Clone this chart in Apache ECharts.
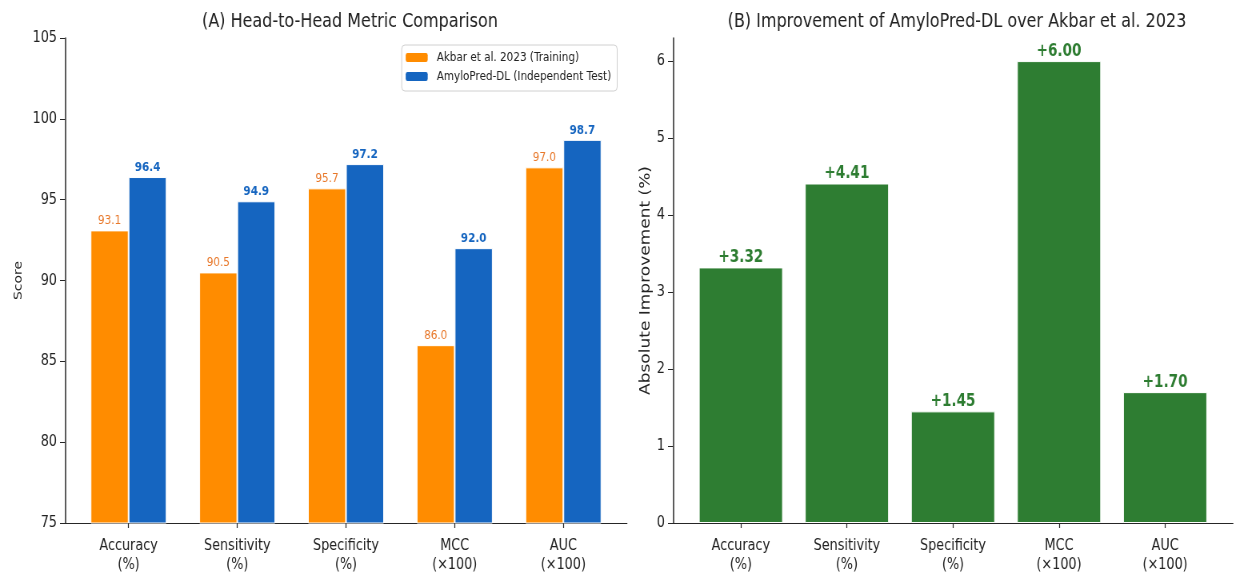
<!DOCTYPE html>
<html>
<head>
<meta charset="utf-8">
<script src="https://cdn.jsdelivr.net/npm/echarts@6/dist/echarts.min.js"></script>
<style>
  html, body { margin: 0; padding: 0; background: #fff; overflow: hidden; }
  #wrap { width: 1239px; height: 575px; overflow: hidden; }
  /* the figure is laid out wide and squeezed horizontally to its final width */
  #chart { height: 575px; transform-origin: 0 0; }
</style>
</head>
<body>
<div id="wrap"><div id="chart"></div></div>
<script>
// Metric categories (two-line labels)
const categories = ['Accuracy\n(%)', 'Sensitivity\n(%)', 'Specificity\n(%)', 'MCC\n(×100)', 'AUC\n(×100)'];
// Panel A scores
const akbarScores = [93.1, 90.5, 95.7, 86.0, 97.0];
const amyloScores = [96.4, 94.9, 97.2, 92.0, 98.7];
// Panel B absolute improvement
const improvement = [3.32, 4.41, 1.45, 6.00, 1.70];
// Tick values
const scoreTicks = [75, 80, 85, 90, 95, 100, 105];
const improvTicks = [0, 1, 2, 3, 4, 5, 6];
const catIndex = [0, 1, 2, 3, 4];

// horizontal squeeze factor; V() converts final-page x distances to layout units
const K = 0.8;
const V = x => x / K;
const el = document.getElementById('chart');
el.style.width = V(1239) + 'px';
el.style.transform = 'scaleX(' + K + ')';

const FONT = "'DejaVu Sans', sans-serif";
const AXIS = '#262626';

function xAxisFor(gridIndex, lo, hi) {
  return {
    type: 'value', gridIndex: gridIndex, min: lo, max: hi,
    splitLine: { show: false },
    axisLine: { show: true, onZero: false, lineStyle: { color: AXIS, width: 1.2 } },
    axisTick: { show: true, customValues: catIndex, length: 5, lineStyle: { color: AXIS, width: 1.2 } },
    axisLabel: {
      customValues: catIndex, formatter: v => categories[Math.round(v)],
      fontFamily: FONT, fontSize: 16, color: '#222', lineHeight: 19, margin: 13
    }
  };
}

function yAxisFor(gridIndex, lo, hi, ticks, name, nameSize, nameGap) {
  return {
    type: 'value', gridIndex: gridIndex, min: lo, max: hi,
    name: name, nameLocation: 'middle', nameGap: nameGap, nameRotate: 90,
    nameTextStyle: { fontFamily: FONT, fontSize: nameSize, color: '#222' },
    splitLine: { show: false },
    axisLine: { show: true, onZero: false, lineStyle: { color: AXIS, width: 1.5 } },
    axisTick: { show: true, customValues: ticks, length: V(5), lineStyle: { color: AXIS } },
    axisLabel: { customValues: ticks, fontFamily: FONT, fontSize: 16, color: '#222', margin: V(8) }
  };
}

const chart = echarts.init(el, null, { renderer: 'canvas' });

chart.setOption({
  animation: false,
  backgroundColor: '#fff',
  title: [
    { text: '(A) Head-to-Head Metric Comparison', left: V(346), top: 7, textAlign: 'center',
      textStyle: { fontFamily: FONT, fontSize: 20, fontWeight: 'normal', color: '#222' } },
    { text: '(B) Improvement of AmyloPred-DL over Akbar et al. 2023', left: V(953), top: 7, textAlign: 'center',
      textStyle: { fontFamily: FONT, fontSize: 20, fontWeight: 'normal', color: '#222' } }
  ],
  legend: {
    orient: 'vertical', right: V(622), top: 45,
    padding: [5, V(6), 7, V(4)], itemGap: 4, itemWidth: V(22), itemHeight: 9,
    borderColor: '#d0d0d0', borderWidth: 1, borderRadius: 4,
    backgroundColor: '#fff',
    textStyle: { fontFamily: FONT, fontSize: 13, lineHeight: 15, color: '#222', padding: [0, 0, 0, V(5)] },
    itemStyle: { borderWidth: 0 },
    data: ['Akbar et al. 2023 (Training)', 'AmyloPred-DL (Independent Test)']
  },
  grid: [
    { left: V(65), top: 38, width: V(562), height: 485, outerBoundsMode: 'none' },
    { left: V(673), top: 38, width: V(560), height: 485, outerBoundsMode: 'none' }
  ],
  xAxis: [xAxisFor(0, -0.585, 4.585), xAxisFor(1, -0.64, 4.64)],
  yAxis: [
    yAxisFor(0, 75, 105, scoreTicks, 'Score', 14, V(41)),
    yAxisFor(1, 0, 6.3, improvTicks, 'Absolute Improvement (%)', 17, V(20))
  ],
  series: [
    {
      name: 'Akbar et al. 2023 (Training)', type: 'bar', xAxisIndex: 0, yAxisIndex: 0,
      data: akbarScores.map((v, i) => [i, v]),
      barWidth: V(38), barGap: '0%',
      itemStyle: { color: '#FF8C00', borderColor: '#fff', borderWidth: 1 },
      label: { show: true, position: 'top', distance: 3, formatter: p => p.value[1].toFixed(1),
               fontFamily: FONT, fontSize: 13, color: '#E8782A' }
    },
    {
      name: 'AmyloPred-DL (Independent Test)', type: 'bar', xAxisIndex: 0, yAxisIndex: 0,
      data: amyloScores.map((v, i) => [i, v]),
      barWidth: V(38), barGap: '0%',
      itemStyle: { color: '#1565C0', borderColor: '#fff', borderWidth: 1 },
      label: { show: true, position: 'top', distance: 3, formatter: p => p.value[1].toFixed(1),
               fontFamily: FONT, fontSize: 13, fontWeight: 'bold', color: '#1565C0' }
    },
    {
      name: 'Improvement', type: 'bar', xAxisIndex: 1, yAxisIndex: 1,
      data: improvement.map((v, i) => [i, v]),
      barWidth: V(84),
      itemStyle: { color: '#2E7D32', borderColor: '#fff', borderWidth: 1 },
      label: { show: true, position: 'top', distance: 1, formatter: p => '+' + p.value[1].toFixed(2),
               fontFamily: FONT, fontSize: 17, fontWeight: 'bold', color: '#2E7D32' }
    }
  ]
});
</script>
</body>
</html>
